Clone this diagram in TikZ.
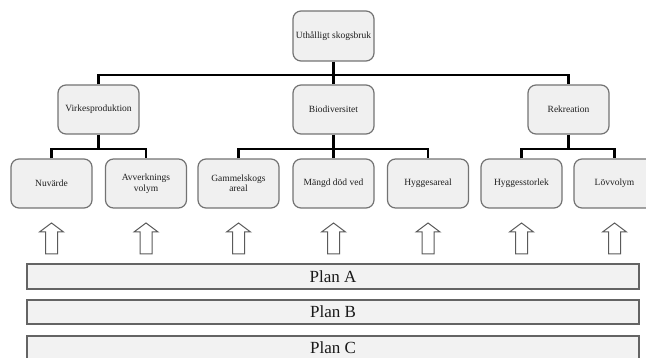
\documentclass[tikz,border=0pt]{standalone}
\usepackage{fontspec}
\setmainfont{Liberation Serif}
\definecolor{boxfill}{RGB}{240,240,240}
\definecolor{boxline}{RGB}{115,115,115}
\definecolor{txt}{RGB}{30,30,30}
\definecolor{planline}{RGB}{100,100,100}
\definecolor{planfill}{RGB}{242,242,242}
\definecolor{arrline}{RGB}{90,90,90}
\begin{document}
\begin{tikzpicture}[x=1pt,y=-1pt,
  box/.style={draw=boxline, fill=boxfill, line width=1.2pt, rounded corners=8pt,
    minimum width=81pt, minimum height=49pt, inner sep=1pt, align=center,
    font=\fontsize{9.5}{10.5}\selectfont, text=txt},
  conn/.style={draw=black, line width=2.1pt},
  plan/.style={draw=planline, fill=planfill, line width=1.3pt, minimum width=612pt,
    minimum height=24pt, inner sep=0pt, font=\fontsize{17}{18}\selectfont, text=black!90},
  uparrow/.style={draw=arrline, fill=white, line width=1pt},
  uparr/.pic={\draw[uparrow] (-6,31) -- (-6,9) -- (-12,9) -- (0,0) -- (12,9) -- (6,9) -- (6,31) -- cycle;}]
\useasboundingbox (0,0) rectangle (646,358);
% top
\node[box, minimum height=50pt] (top) at (333.5,36) {Uthålligt skogsbruk};
% level 2
\node[box] (v) at (98.5,109.5) {Virkesproduktion};
\node[box] (b) at (333.5,109.5) {Biodiversitet};
\node[box] (r) at (568.5,109.5) {Rekreation};
% level 3
\node[box] (n1) at (51.5,183.5) {Nuvärde};
\node[box] (n2) at (146,183.5) {Avverknings\\volym};
\node[box] (n3) at (238.5,183.5) {Gammelskogs\\areal};
\node[box] (n4) at (333.5,183.5) {Mängd död ved};
\node[box] (n5) at (428,183.5) {Hyggesareal};
\node[box] (n6) at (521.5,183.5) {Hyggesstorlek};
\node[box] (n7) at (614.5,183.5) {Lövvolym};
% connectors
\coordinate (j0) at (0,75);
\coordinate (j1) at (0,149);
\draw[conn] (top.south) -- (b.north);
\draw[conn] (v.north) -- (v.north |- j0) -- (r.north |- j0) -- (r.north);
\draw[conn] (v.south) -- (v.south |- j1);
\draw[conn] (n1.north) -- (n1.north |- j1) -- (n2.north |- j1) -- (n2.north);
\draw[conn] (b.south) -- (n4.north);
\draw[conn] (n3.north) -- (n3.north |- j1) -- (n5.north |- j1) -- (n5.north);
\draw[conn] (r.south) -- (r.south |- j1);
\draw[conn] (n6.north) -- (n6.north |- j1) -- (n7.north |- j1) -- (n7.north);
% arrows
\foreach \xx in {51.5,146,238.5,333.5,428,521.5,614.5} {
  \pic at (\xx,223) {uparr};
}
% plans
\node[plan, minimum height=25pt] (pa) at (333,276.5) {Plan A};
\node[plan] (pb) at (333,312) {Plan B};
\node[plan] (pc) at (333,348) {Plan C};
\end{tikzpicture}
\end{document}
